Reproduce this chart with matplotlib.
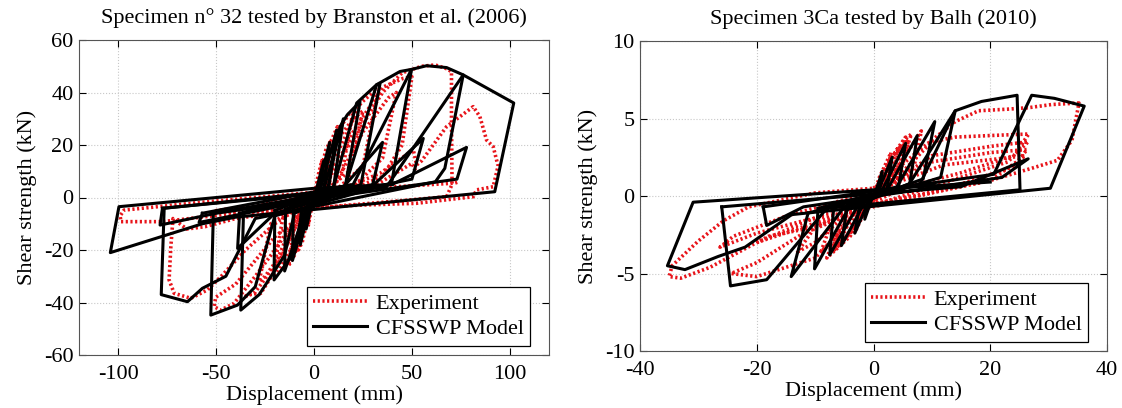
import numpy as np
import matplotlib.pyplot as plt

plt.rcParams['font.family'] = ['Liberation Serif', 'DejaVu Serif']
plt.rcParams['font.size'] = 16
plt.rcParams['axes.unicode_minus'] = False

# ---------------- data: Branston et al. (2006), specimen 32 ----------------
# model (black) – each polyline is one piece of the hysteresis path, (x mm, y kN)
model_a = [
    [(0, 0), (0.5, 1), (5, 14), (3, 2), (-1, -2), (-4, -12), (-3.5, -2)],
    [(-3.5, -2), (1.5, 2), (8, 21), (5, 3), (-2, -3), (-7, -18), (-6.5, -3)],
    [(-6.5, -3), (3, 2.5), (11.6, 25.7), (7.5, 3.5), (-3, -3.5), (-11, -24), (-10.5, -3.5)],
    [(-10.5, -3.5), (5, 3), (15, 30), (10, 4), (-4, -4), (-15, -28), (-14.5, -4.5)],
    [(-14.5, -4.5), (7, 3.5), (13.3, 27), (17, 31.5), (23.5, 36.5), (16, 4.5),
     (-6, -5), (-10, -21), (-20.4, -31.4), (-20, -5)],
    [(-20, -5), (10, 4), (21.8, 36), (32, 43), (33.7, 43.3), (24, 5),
     (-10, -6), (-15, -22), (-28, -37), (-37.4, -42.9), (-36, -6)],
    [(-36, -6), (15, 4), (35, 21), (30, 5), (-20, -6), (-39, -19.4), (-38, -6)],
    [(-38, -6), (16, 4.5), (32, 43), (43.9, 48), (49.8, 48.8), (39.6, 5.4),
     (-20, -7), (-30, -34), (-39.1, -41), (-52.7, -44.8), (-51.4, -6)],
    [(-51.4, -6), (30, 4.5), (55.8, 22.5), (50, 7), (-35, -6), (-58.7, -9.5), (-57, -6)],
    [(-57, -6), (20, 5), (49.8, 48.8), (57.5, 50.2), (67.7, 49.5), (76.2, 46.7), (66.8, 11.1), (62, 6),
     (-30, -8), (-45, -30), (-57, -34.6), (-64.6, -39.7), (-78, -37), (-76.5, -4.1)],
    [(-76.5, -4.1), (40, 5), (77.9, 19.1), (73, 7), (-50, -6), (-78.6, -10.5), (-77.4, -4.1)],
    [(-77.4, -4.1), (37, 4), (76.2, 46.7), (102, 36), (92.3, 2.2),
     (-40, -7.5), (-57, -10), (-104, -21), (-99.6, -3.5), (0, 3.5), (40, 5)],
]
# experiment (red)
test_a = [
    [(0, 0), (2, 8), (4, 14), (3, 3), (-1, -3), (-3, -11), (-2, -3), (1, 2), (6, 18), (8, 21), (5, 4),
     (-2, -4), (-6, -17), (-8, -20), (-5, -4), (2, 2), (9, 22), (12, 27), (8, 6), (-3, -4),
     (-10, -22), (-13, -26), (-9, -5)],
    [(-9, -5), (4, 3), (12, 25), (18, 32), (20, 33), (14, 8), (0, -2), (-12, -20), (-18, -28),
     (-21, -30), (-16, -8), (0, 2), (14, 20), (24, 36), (30, 40), (33, 41), (25, 12), (10, 2),
     (-10, -8), (-20, -26), (-30, -36), (-35.7, -38), (-34, -37.1), (-27.2, -36.5), (-20, -28)],
    [(-20, -28), (-12, -15), (-5, -5), (5, 3), (20, 25), (35, 42), (45.6, 45.4), (50, 46), (45, 20),
     (35, 8), (0, -3), (-20, -15), (-40, -33), (-50.2, -38), (-51, -41.6), (-47.6, -42.9),
     (-40.8, -40.3), (-30, -30), (-20, -20)],
    [(-20, -20), (0, 2), (20, 22), (35, 40), (45, 47.5), (55, 50), (61.9, 50.5), (68, 49), (70.2, 47.9),
     (70.2, 30), (70.5, 5), (67.7, 0.3), (40, -1.5), (0, -4), (-40, -8), (-55.6, -11.1),
     (-65, -12), (-72, -8), (-73.1, -18.7), (-74, -31.4), (-71.4, -36.5), (-62.9, -38.4),
     (-54.4, -35.2), (-47.6, -30.2), (-35, -20), (-20, -10)],
    [(-20, -10), (0, 0), (20, 5), (33.7, 9.2), (50.7, 18.1), (52.4, 12.4), (55, 14), (67.7, 27),
     (81.3, 34.6), (84.7, 30.8), (88.1, 21.9), (91.5, 19.4), (94, 12), (91.5, 4.1), (83, 2.9),
     (81.3, 0.3), (52.4, -2.2), (20, -3), (0, -4), (-40, -6), (-77.4, -9.2), (-98.6, -9.2),
     (-99, -7), (-97, -4.8), (-60, -2), (-30, 0), (0, 2), (40, 4), (72, 5.5), (74, 6)],
    [(0, 0), (10, 20), (20, 30), (25, 33), (18, 10), (5, 2), (-5, -4), (-15, -20), (-25, -30),
     (-28, -32), (-22, -10), (-5, -2), (10, 4), (25, 25), (38, 38), (42, 40), (35, 15), (20, 4),
     (0, -2), (-20, -5), (-40, -6), (-50, -5), (-30, -3), (0, 1), (30, 4), (50, 13), (52, 10)],
]

# ---------------- data: Balh (2010), specimen 3Ca ----------------
model_b = [
    [(0, 0), (0.3, 0.2), (1.5, 1.6), (1.0, 0.3), (-0.3, -0.2), (-1.5, -1.5), (-1.0, -0.3)],
    [(-1.0, -0.3), (0.8, 0.3), (3.2, 2.5), (2.3, 0.4), (-0.8, -0.3), (-3.2, -2.4), (-2.3, -0.4)],
    [(-2.3, -0.4), (1.5, 0.4), (5.5, 3.4), (4.3, 0.6), (-1.5, -0.4), (-5.5, -3.2), (-4.5, -0.6)],
    [(-4.5, -0.6), (2.5, 0.5), (7.5, 3.9), (6.2, 0.8), (-2.5, -0.5), (-7.5, -3.8), (-6.8, -0.7)],
    [(-6.8, -0.7), (4, 0.6), (10.5, 4.8), (8.5, 1.1), (-4, -0.6), (-10.1, -4.7), (-9.5, -0.8)],
    [(-9.5, -0.8), (6, 0.7), (14, 5.5), (11.5, 1.2), (-5, -0.7), (-14.1, -5.2), (-11.2, -1.1)],
    [(-11.2, -1.1), (8, 0.8), (14, 5.5), (18.5, 6.1), (24.6, 6.5), (25.1, 0.4),
     (-8, -0.8), (-18.3, -5.4), (-24.5, -5.8), (-26, -0.7)],
    [(-26, -0.7), (15, 0.6), (26.5, 2.4), (22, 1.2), (-12, -0.7), (-18.3, -1.9), (-18.9, -0.7)],
    [(-18.9, -0.7), (20.6, 1.4), (27.1, 6.5), (31, 6.3), (36.1, 5.8), (30.3, 0.5),
     (-14, -1.2), (-22, -3.3), (-26.6, -3.9), (-32.3, -4.75), (-35.3, -4.5), (-30.9, -0.4),
     (0, 0.4), (20, 0.9)],
]
test_b = [
    [(0, 0), (1, 1.2), (3, 2.8), (2, 0.8), (-1, -0.6), (-3, -2.2), (-2, -0.8), (1, 0.4), (5, 3.5),
     (6.5, 4.0), (4, 1.2), (-1, -0.5), (-5, -2.8), (-7, -3.4), (-5, -1.2), (2, 0.6), (8.2, 4.2),
     (7, 2), (0, -0.3), (-6, -2.5), (-9, -3.6), (-7, -1.5)],
    [(-7, -1.5), (3, 0.8), (10, 3.5), (14, 3.8), (20, 3.9), (26.6, 4.0), (24, 2.6), (15, 1.5), (5, 0.5),
     (-5, -1.3), (-10, -3.0), (-13, -3.6), (-10, -2), (0, 0), (10, 2.6), (20, 3.2), (26.5, 3.5),
     (23, 2.2), (10, 0.6), (0, -0.6), (-10, -2), (-18, -2.6), (-20, -3)],
    [(-20, -3), (-15, -2.2), (0, 0.2), (10, 2.2), (20, 2.8), (26.3, 3.0), (24, 1.9), (12, 0.4),
     (0, -0.7), (-12, -1.6), (-20, -2.4), (-26.3, -3.3), (-24, -2.6), (-15, -1.3), (0, 0.3),
     (12, 2.0), (26, 2.6), (20, 1.0), (0, -0.5), (-20, -3.0), (-28, -4.6), (-33, -5.3),
     (-35, -5.2), (-34.5, -4.5), (-30, -2.9), (-25.7, -1.6), (-21.4, -0.7), (-10, 0.2), (0, 0.5)],
    [(0, 0.5), (8, 3.0), (14, 4.8), (18, 5.5), (22.9, 5.6), (26.6, 5.7), (30.5, 5.9), (35.2, 6.0),
     (34, 3.6), (31.5, 2.3), (27.2, 1.8), (20, 1.0), (10, 0.2), (0, -0.6), (-12, -2.4),
     (-20, -4.3), (-24.4, -5.0), (-20, -5.2), (-10, -4.0), (-5, -2.0)],
    [(0, 0), (2, 1.5), (4, 3.0), (5.5, 3.8), (4, 1.5), (1, 0), (-2, -1.2), (-5, -2.8), (-6, -3.2),
     (-4, -1.4), (0, 0), (3, 2.5), (6, 3.6), (5, 2), (0, 0), (-3, -2), (-7, -3.6), (-5, -1.8),
     (0, 0), (2.5, 2.2), (4.5, 3.2), (3, 1), (-1, -0.5), (-4, -2.6), (-8, -4.0), (-6, -2)],
]

titles = ['Specimen n\u00b0 32 tested by Branston et al. (2006)', 'Specimen 3Ca tested by Balh (2010)']
xlims = [(-120, 120), (-40, 40)]
ylims = [(-60, 60), (-10, 10)]
xticks = [[-100, -50, 0, 50, 100], [-40, -20, 0, 20, 40]]
yticks = [[-60, -40, -20, 0, 20, 40, 60], [-10, -5, 0, 5, 10]]

fig = plt.figure(figsize=(11.22, 4.08), dpi=100)
ax1 = fig.add_axes([79 / 1122, 1 - 355 / 408, 470 / 1122, 315 / 408])
ax2 = fig.add_axes([640 / 1122, 1 - 351 / 408, 467 / 1122, 310 / 408])

for ax, model, test, title, xl, yl, xt, yt in zip(
        [ax1, ax2], [model_a, model_b], [test_a, test_b], titles, xlims, ylims, xticks, yticks):
    for i, seg in enumerate(test):
        x, y = zip(*seg)
        ax.plot(x, y, color='#e8141a', linestyle=(0, (0.6, 0.7)), linewidth=2.6,
                label='Experiment' if i == 0 else None, zorder=2)
    for i, seg in enumerate(model):
        x, y = zip(*seg)
        ax.plot(x, y, color='black', linewidth=2.2,
                label='CFSSWP Model' if i == 0 else None, zorder=3)
    ax.set_xlim(xl)
    ax.set_ylim(yl)
    ax.set_xticks(xt)
    ax.set_yticks(yt)
    ax.grid(True, color='#c8c8c8', linestyle=':', linewidth=0.8)
    ax.set_axisbelow(True)
    ax.tick_params(axis='both', direction='in', top=True, right=True, length=5, width=0.8)
    ax.tick_params(axis='x', pad=7)
    ax.tick_params(axis='y', pad=4)
    for s in ax.spines.values():
        s.set_color('#555555')
    ax.set_title(title, fontsize=16, pad=12)
    ax.set_xlabel('Displacement (mm)', labelpad=1)
    ax.set_ylabel('Shear strength (kN)', labelpad=5)
    leg = ax.legend(loc='lower right', bbox_to_anchor=(0.96, 0.03), borderaxespad=0,
                    fancybox=False, edgecolor='black', framealpha=1,
                    handlelength=2.4, borderpad=0.3, labelspacing=0.2, handletextpad=0.4)
    leg.get_frame().set_linewidth(0.9)

fig.savefig('out.png', dpi=100)
